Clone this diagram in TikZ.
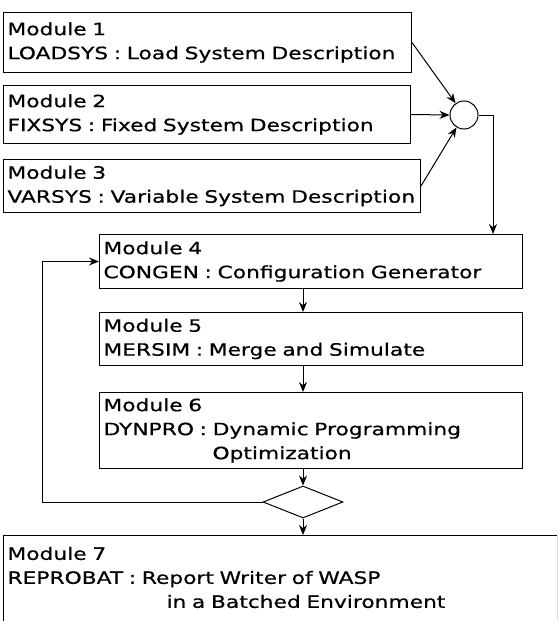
\documentclass[tikz,border=0pt]{standalone}
\usepackage{fontspec}
\setmainfont{DejaVu Sans}[FakeStretch=1.28, FakeBold=0.6]
\usepackage{tikz}
\usetikzlibrary{arrows.meta}
\usetikzlibrary{shapes.geometric}
\hyphenpenalty=10000

\tikzset{
  module/.style 2 args={draw, line width=1pt, anchor=north west, align=left,
    inner xsep=4pt, inner ysep=0pt, text width=#1pt-8pt, minimum height=#2pt,
    font=\fontsize{17}{24}\selectfont},
  link/.style={-{Stealth[length=10pt,width=8pt]}, line width=1pt}
}

\begin{document}
\begin{tikzpicture}[x=1pt,y=-1pt]
  \useasboundingbox (0,0) rectangle (557,621);
  \clip (0,0) rectangle (557,621);
  % input modules
  \node[module={408}{60}] (m1) at (3,12) {Module 1\\LOADSYS : Load System Description};
  \node[module={407}{58}] (m2) at (3,85) {Module 2\\FIXSYS : Fixed System Description};
  \node[module={417}{53}] (m3) at (3,159) {Module 3\\VARSYS : Variable System Description};
  \node[circle, draw, line width=1pt, minimum size=28pt, inner sep=0pt] (join) at (464,115) {};
  % main loop
  \node[module={423}{54}] (m4) at (99,234) {Module 4\\CONGEN : Configuration Generator};
  \node[module={423}{53}] (m5) at (99,312) {Module 5\\MERSIM : Merge and Simulate};
  \node[module={423}{76}] (m6) at (99,392) {Module 6\\DYNPRO : Dynamic Programming\\\hspace*{109pt}Optimization};
  \node[diamond, draw, line width=1pt, minimum width=80pt, minimum height=32pt, inner sep=0pt] (test) at (303,502) {};
  \node[module={553}{84}, draw=none] (m7) at (3,535) {Module 7\\REPROBAT : Report Writer of WASP\\\hspace*{159pt}in a Batched Environment};
  \draw[line width=1pt] (m7.north west) rectangle ([yshift=-40pt]m7.south east);

  \coordinate (turn) at (493,115);
  \draw[link] (m1.east) -- (join);
  \draw[link] (m2.east) -- (join.west);
  \draw[link] (m3.east) -- (join);
  \draw[link] (join.east) -- (turn) -- (turn |- m4.north);
  \draw[link] (m4.south -| test) -- (m5.north -| test);
  \draw[link] (m5.south -| test) -- (m6.north -| test);
  \draw[link] (m6.south -| test) -- (test.north);
  \draw[link] (test.south) -- (m7.north -| test);
  \draw[link] (test.west) -- ++(-220,0) |- (m4.west);
\end{tikzpicture}
\end{document}
